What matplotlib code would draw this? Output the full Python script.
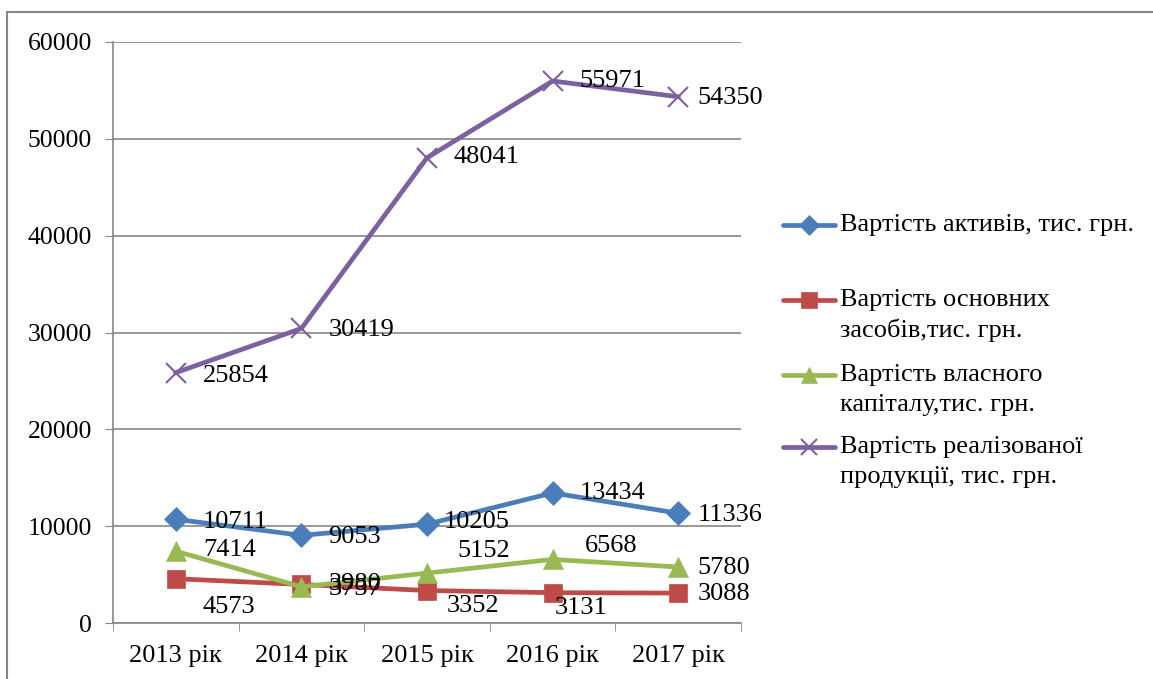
import matplotlib.pyplot as plt
from matplotlib.lines import Line2D
from matplotlib.patches import Rectangle

plt.rcParams['font.family'] = ['Liberation Serif', 'DejaVu Serif']

years = ['2013 рік', '2014 рік', '2015 рік', '2016 рік', '2017 рік']
assets = [10711, 9053, 10205, 13434, 11336]
fixed_assets = [4573, 3980, 3352, 3131, 3088]
equity = [7414, 3737, 5152, 6568, 5780]
sales = [25854, 30419, 48041, 55971, 54350]

names = [['Вартість активів, тис. грн.'],
         ['Вартість основних', 'засобів,тис. грн.'],
         ['Вартість власного', 'капіталу,тис. грн.'],
         ['Вартість реалізованої', 'продукції, тис. грн.']]
colors = ['#4A7EBB', '#BE4B48', '#98B954', '#7D60A0']
markers = ['D', 's', '^', 'x']
msizes = [12, 13, 14, 14]

# зсуви підписів значень (пікселі)
offsets = [
    [(27, -3), (27, -2), (17, 2), (27, 0), (19, -2)],
    [(27, -28), (27, 0), (20, -15), (2, -15), (19, -1)],
    [(27, 1), (27, -2), (30, 22), (32, 13), (19, -1)],
    [(27, -3), (27, -2), (27, 1), (27, 0), (19, -1)],
]

W, H = 1153, 679
fig = plt.figure(figsize=(W / 100, H / 100), dpi=100)
ax = fig.add_axes([113 / W, 56 / H, 628 / W, 581 / H])

x = list(range(len(years)))
series = [assets, fixed_assets, equity, sales]
for s, c, m, ms, offs in zip(series, colors, markers, msizes, offsets):
    ax.plot(x, s, color=c, lw=3.4, marker=m, ms=ms, mew=1.5 if m == 'x' else 0.5,
            mec=c, mfc=c, zorder=3)
    for xi, v, (dx, dy) in zip(x, s, offs):
        ax.annotate(str(v), (xi, v), xytext=(dx, dy), textcoords='offset pixels',
                    ha='left', va='center', fontsize=19, zorder=4)

ax.set_xlim(-0.5, 4.5)
ax.set_ylim(0, 60000)
ax.set_yticks(range(0, 60001, 10000))
ax.set_xticks(x)
ax.set_xticklabels(years)
ax.set_xticks([i - 0.5 for i in range(len(years) + 1)], minor=True)
ax.tick_params(axis='x', which='major', length=0, pad=16, labelsize=19)
ax.tick_params(axis='x', which='minor', length=6, color='#868686', direction='out')
ax.tick_params(axis='y', length=6, color='#868686', pad=9, labelsize=18.5)
ax.grid(axis='y', color='#868686', lw=1.2)
ax.set_axisbelow(True)
for sp in ['top', 'right']:
    ax.spines[sp].set_visible(False)
for sp in ['left', 'bottom']:
    ax.spines[sp].set_color('#868686')
    ax.spines[sp].set_linewidth(1.2)

# легенда праворуч
leg_y = [225, 300, 375, 447]
for yp, c, m, ms, lines in zip(leg_y, colors, markers, msizes, names):
    fy = 1 - yp / H
    fig.add_artist(Line2D([783 / W, 835 / W], [fy, fy], transform=fig.transFigure,
                          color=c, lw=3.4, solid_capstyle='round'))
    fig.add_artist(Line2D([809 / W], [fy], transform=fig.transFigure, color=c,
                          marker=m, ms=ms - 2, mew=1.5 if m == 'x' else 0.5,
                          mec=c, mfc=c))
    for k, t in enumerate(lines):
        fig.text(840 / W, 1 - (yp + 30 * k) / H, t, ha='left', va='center',
                 fontsize=19)

fig.add_artist(Rectangle((7 / W, -0.05), 1.1, 1 - 12 / H + 0.05,
                         transform=fig.transFigure, fill=False,
                         ec='#868686', lw=1.5))

fig.savefig('out.png', dpi=100)
